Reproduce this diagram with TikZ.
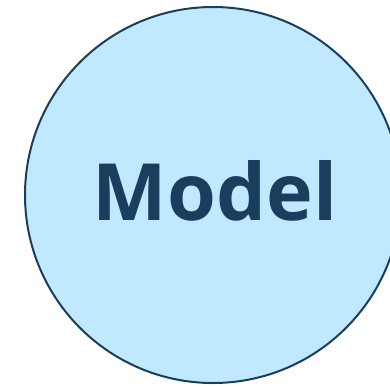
\documentclass[tikz,border=0pt]{standalone}
\usepackage{fontspec}
\setmainfont{Open Sans}
\begin{document}
\begin{tikzpicture}[x=1pt,y=1pt]
            % Define colors
            \definecolor{modelfill}{RGB}{192, 232, 255}
            \definecolor{modeldark}{RGB}{26, 62, 94}

            % Picture frame
            \useasboundingbox (0, 0) rectangle (390, -386);
            \clip (0, 0) rectangle (390, -386);

            % Main circle
            \node[circle, draw=modeldark, line width=2pt, fill=modelfill,
                  minimum size=376pt, inner sep=0pt] (model) at (213, -195) {};
            \node[anchor=base, text=modeldark, font=\fontsize{79}{79}\selectfont\bfseries,
                  inner sep=0pt] (modeltext) at (215, -220) {Model};
        \end{tikzpicture}
\end{document}
